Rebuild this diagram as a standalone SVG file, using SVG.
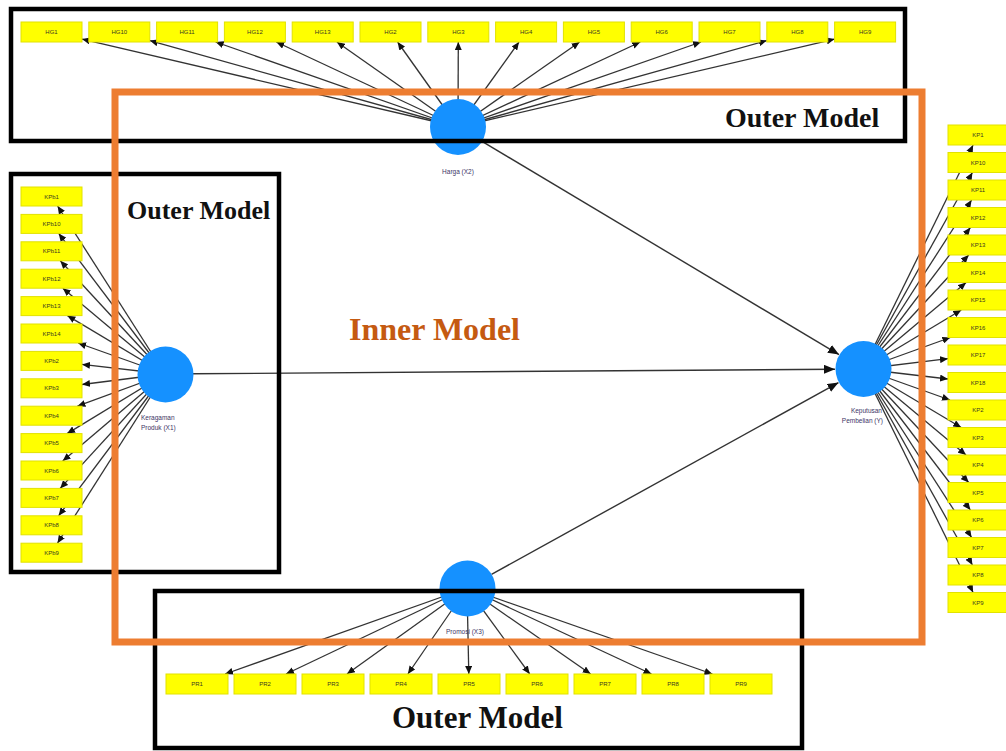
<svg xmlns="http://www.w3.org/2000/svg" width="1006" height="751" viewBox="0 0 1006 751">
<style>
.ind rect{fill:#FFFF00;stroke:#E2E200;stroke-width:1}
.ind text{font-family:"Liberation Sans",Arial,sans-serif;font-size:6px;fill:#3a3a20;text-anchor:middle}
.lat circle{fill:#1591FF}
.lat text{font-family:"Liberation Sans",Arial,sans-serif;font-size:6.5px;fill:#3d3566}
.out line{stroke:#333;stroke-width:1.3;marker-end:url(#ah)}
.inn line{stroke:#333;stroke-width:1.4;marker-end:url(#ahb)}
.frame{fill:none;stroke:#000;stroke-width:4.5}
.lbl{font-family:"Liberation Serif","Times New Roman",serif;font-weight:bold;fill:#111}
</style>
<defs>
<marker id="ah" markerUnits="userSpaceOnUse" markerWidth="8" markerHeight="7" refX="8" refY="3.5" orient="auto"><path d="M0,0 L8,3.5 L0,7 z" fill="#111"/></marker>
<marker id="ahb" markerUnits="userSpaceOnUse" markerWidth="11" markerHeight="9" refX="11" refY="4.5" orient="auto"><path d="M0,0 L11,4.5 L0,9 z" fill="#111"/></marker>
</defs>
<rect width="1006" height="751" fill="#fff"/>
<g id="connectors">
<g class="out">
<line x1="458" y1="127" x2="82" y2="39.1"/>
<line x1="458" y1="127" x2="149.8" y2="40.6"/>
<line x1="458" y1="127" x2="215.6" y2="42"/>
<line x1="458" y1="127" x2="276.3" y2="42"/>
<line x1="458" y1="127" x2="336.9" y2="42"/>
<line x1="458" y1="127" x2="397.6" y2="42"/>
<line x1="458" y1="127" x2="458.3" y2="42"/>
<line x1="458" y1="127" x2="519" y2="42"/>
<line x1="458" y1="127" x2="579.6" y2="42"/>
<line x1="458" y1="127" x2="640.3" y2="42"/>
<line x1="458" y1="127" x2="701" y2="42"/>
<line x1="458" y1="127" x2="766.8" y2="40.6"/>
<line x1="458" y1="127" x2="834.6" y2="39.1"/>
<line x1="165" y1="374" x2="57.6" y2="206"/>
<line x1="165" y1="374" x2="58.7" y2="233.4"/>
<line x1="165" y1="374" x2="60.3" y2="260.8"/>
<line x1="165" y1="374" x2="62.8" y2="288.2"/>
<line x1="165" y1="374" x2="67.4" y2="315.6"/>
<line x1="165" y1="374" x2="78.1" y2="343"/>
<line x1="165" y1="374" x2="82" y2="364.4"/>
<line x1="165" y1="374" x2="82" y2="384.5"/>
<line x1="165" y1="374" x2="77.4" y2="406.2"/>
<line x1="165" y1="374" x2="67.1" y2="433.6"/>
<line x1="165" y1="374" x2="62.7" y2="461"/>
<line x1="165" y1="374" x2="60.2" y2="488.4"/>
<line x1="165" y1="374" x2="58.6" y2="515.8"/>
<line x1="165" y1="374" x2="57.5" y2="543.2"/>
<line x1="863" y1="369" x2="973.1" y2="145"/>
<line x1="863" y1="369" x2="972.4" y2="172.5"/>
<line x1="863" y1="369" x2="971.6" y2="200"/>
<line x1="863" y1="369" x2="970.4" y2="227.5"/>
<line x1="863" y1="369" x2="968.7" y2="255"/>
<line x1="863" y1="369" x2="966.1" y2="282.5"/>
<line x1="863" y1="369" x2="961.3" y2="310"/>
<line x1="863" y1="369" x2="950.3" y2="337.5"/>
<line x1="863" y1="369" x2="948" y2="358.7"/>
<line x1="863" y1="369" x2="948" y2="379"/>
<line x1="863" y1="369" x2="950" y2="400"/>
<line x1="863" y1="369" x2="961.2" y2="427.5"/>
<line x1="863" y1="369" x2="966" y2="455"/>
<line x1="863" y1="369" x2="968.7" y2="482.5"/>
<line x1="863" y1="369" x2="970.4" y2="510"/>
<line x1="863" y1="369" x2="971.6" y2="537.5"/>
<line x1="863" y1="369" x2="972.4" y2="565"/>
<line x1="863" y1="369" x2="973.1" y2="592.5"/>
<line x1="467" y1="588" x2="225.1" y2="674"/>
<line x1="467" y1="588" x2="286" y2="674"/>
<line x1="467" y1="588" x2="347" y2="674"/>
<line x1="467" y1="588" x2="407.9" y2="674"/>
<line x1="467" y1="588" x2="468.8" y2="674"/>
<line x1="467" y1="588" x2="529.7" y2="674"/>
<line x1="467" y1="588" x2="590.6" y2="674"/>
<line x1="467" y1="588" x2="651.5" y2="674"/>
<line x1="467" y1="588" x2="712.4" y2="674"/>
</g>
<g class="inn">
<line x1="482" y1="141.4" x2="839" y2="354.6"/>
<line x1="193" y1="373.8" x2="835" y2="369.2"/>
<line x1="491.5" y1="574.4" x2="838.5" y2="382.6"/>
</g>
</g>
<g id="indicators-harga" class="ind">
<g id="HG1"><rect x="21" y="22" width="61" height="20"/><text x="51.5" y="34">HG1</text></g>
<g id="HG10"><rect x="88.8" y="22" width="61" height="20"/><text x="119.3" y="34">HG10</text></g>
<g id="HG11"><rect x="156.6" y="22" width="61" height="20"/><text x="187.1" y="34">HG11</text></g>
<g id="HG12"><rect x="224.4" y="22" width="61" height="20"/><text x="254.9" y="34">HG12</text></g>
<g id="HG13"><rect x="292.2" y="22" width="61" height="20"/><text x="322.7" y="34">HG13</text></g>
<g id="HG2"><rect x="360" y="22" width="61" height="20"/><text x="390.5" y="34">HG2</text></g>
<g id="HG3"><rect x="427.8" y="22" width="61" height="20"/><text x="458.3" y="34">HG3</text></g>
<g id="HG4"><rect x="495.6" y="22" width="61" height="20"/><text x="526.1" y="34">HG4</text></g>
<g id="HG5"><rect x="563.4" y="22" width="61" height="20"/><text x="593.9" y="34">HG5</text></g>
<g id="HG6"><rect x="631.2" y="22" width="61" height="20"/><text x="661.7" y="34">HG6</text></g>
<g id="HG7"><rect x="699" y="22" width="61" height="20"/><text x="729.5" y="34">HG7</text></g>
<g id="HG8"><rect x="766.8" y="22" width="61" height="20"/><text x="797.3" y="34">HG8</text></g>
<g id="HG9"><rect x="834.6" y="22" width="61" height="20"/><text x="865.1" y="34">HG9</text></g>
</g>
<g id="indicators-keragaman" class="ind">
<g id="KPb1"><rect x="21" y="187" width="61" height="19"/><text x="51.5" y="198.5">KPb1</text></g>
<g id="KPb10"><rect x="21" y="214.4" width="61" height="19"/><text x="51.5" y="225.9">KPb10</text></g>
<g id="KPb11"><rect x="21" y="241.8" width="61" height="19"/><text x="51.5" y="253.3">KPb11</text></g>
<g id="KPb12"><rect x="21" y="269.2" width="61" height="19"/><text x="51.5" y="280.7">KPb12</text></g>
<g id="KPb13"><rect x="21" y="296.6" width="61" height="19"/><text x="51.5" y="308.1">KPb13</text></g>
<g id="KPb14"><rect x="21" y="324" width="61" height="19"/><text x="51.5" y="335.5">KPb14</text></g>
<g id="KPb2"><rect x="21" y="351.4" width="61" height="19"/><text x="51.5" y="362.9">KPb2</text></g>
<g id="KPb3"><rect x="21" y="378.8" width="61" height="19"/><text x="51.5" y="390.3">KPb3</text></g>
<g id="KPb4"><rect x="21" y="406.2" width="61" height="19"/><text x="51.5" y="417.7">KPb4</text></g>
<g id="KPb5"><rect x="21" y="433.6" width="61" height="19"/><text x="51.5" y="445.1">KPb5</text></g>
<g id="KPb6"><rect x="21" y="461" width="61" height="19"/><text x="51.5" y="472.5">KPb6</text></g>
<g id="KPb7"><rect x="21" y="488.4" width="61" height="19"/><text x="51.5" y="499.9">KPb7</text></g>
<g id="KPb8"><rect x="21" y="515.8" width="61" height="19"/><text x="51.5" y="527.3">KPb8</text></g>
<g id="KPb9"><rect x="21" y="543.2" width="61" height="19"/><text x="51.5" y="554.7">KPb9</text></g>
</g>
<g id="indicators-keputusan" class="ind">
<g id="KP1"><rect x="948" y="125" width="62" height="20"/><text x="978" y="137">KP1</text></g>
<g id="KP10"><rect x="948" y="152.5" width="62" height="20"/><text x="978" y="164.5">KP10</text></g>
<g id="KP11"><rect x="948" y="180" width="62" height="20"/><text x="978" y="192">KP11</text></g>
<g id="KP12"><rect x="948" y="207.5" width="62" height="20"/><text x="978" y="219.5">KP12</text></g>
<g id="KP13"><rect x="948" y="235" width="62" height="20"/><text x="978" y="247">KP13</text></g>
<g id="KP14"><rect x="948" y="262.5" width="62" height="20"/><text x="978" y="274.5">KP14</text></g>
<g id="KP15"><rect x="948" y="290" width="62" height="20"/><text x="978" y="302">KP15</text></g>
<g id="KP16"><rect x="948" y="317.5" width="62" height="20"/><text x="978" y="329.5">KP16</text></g>
<g id="KP17"><rect x="948" y="345" width="62" height="20"/><text x="978" y="357">KP17</text></g>
<g id="KP18"><rect x="948" y="372.5" width="62" height="20"/><text x="978" y="384.5">KP18</text></g>
<g id="KP2"><rect x="948" y="400" width="62" height="20"/><text x="978" y="412">KP2</text></g>
<g id="KP3"><rect x="948" y="427.5" width="62" height="20"/><text x="978" y="439.5">KP3</text></g>
<g id="KP4"><rect x="948" y="455" width="62" height="20"/><text x="978" y="467">KP4</text></g>
<g id="KP5"><rect x="948" y="482.5" width="62" height="20"/><text x="978" y="494.5">KP5</text></g>
<g id="KP6"><rect x="948" y="510" width="62" height="20"/><text x="978" y="522">KP6</text></g>
<g id="KP7"><rect x="948" y="537.5" width="62" height="20"/><text x="978" y="549.5">KP7</text></g>
<g id="KP8"><rect x="948" y="565" width="62" height="20"/><text x="978" y="577">KP8</text></g>
<g id="KP9"><rect x="948" y="592.5" width="62" height="20"/><text x="978" y="604.5">KP9</text></g>
</g>
<g id="indicators-promosi" class="ind">
<g id="PR1"><rect x="166" y="674" width="62" height="20"/><text x="197" y="686">PR1</text></g>
<g id="PR2"><rect x="234" y="674" width="62" height="20"/><text x="265" y="686">PR2</text></g>
<g id="PR3"><rect x="302" y="674" width="62" height="20"/><text x="333" y="686">PR3</text></g>
<g id="PR4"><rect x="370" y="674" width="62" height="20"/><text x="401" y="686">PR4</text></g>
<g id="PR5"><rect x="438" y="674" width="62" height="20"/><text x="469" y="686">PR5</text></g>
<g id="PR6"><rect x="506" y="674" width="62" height="20"/><text x="537" y="686">PR6</text></g>
<g id="PR7"><rect x="574" y="674" width="62" height="20"/><text x="605" y="686">PR7</text></g>
<g id="PR8"><rect x="642" y="674" width="62" height="20"/><text x="673" y="686">PR8</text></g>
<g id="PR9"><rect x="710" y="674" width="62" height="20"/><text x="741" y="686">PR9</text></g>
</g>
<g id="harga" class="lat"><circle cx="458" cy="127" r="28"/><text x="458" y="174" text-anchor="middle">Harga (X2)</text></g>
<g id="keragaman" class="lat"><circle cx="165.5" cy="374.5" r="28"/><text x="141" y="420">Keragaman</text><text x="141" y="430">Produk (X1)</text></g>
<g id="keputusan" class="lat"><circle cx="863.5" cy="369" r="28"/><text x="882" y="413" text-anchor="end">Keputusan</text><text x="883" y="423" text-anchor="end">Pembelian (Y)</text></g>
<g id="promosi" class="lat"><circle cx="467.5" cy="588.5" r="28"/><text x="465" y="634" text-anchor="middle">Promosi (X3)</text></g>
<g id="frames">
<rect class="frame" x="11" y="9" width="894" height="132"/>
<rect class="frame" x="11" y="174" width="268" height="398"/>
<rect class="frame" x="155" y="591" width="647" height="157"/>
<rect x="115" y="92" width="807" height="550" fill="none" stroke="#ED7D31" stroke-width="7"/>
</g>
<g id="labels">
<text class="lbl" x="725" y="127" font-size="28">Outer Model</text>
<text class="lbl" x="127" y="219" font-size="26">Outer Model</text>
<text class="lbl" x="392" y="728" font-size="31">Outer Model</text>
<text class="lbl" x="349" y="340" font-size="32" style="fill:#C55A11">Inner Model</text>
</g>
</svg>
